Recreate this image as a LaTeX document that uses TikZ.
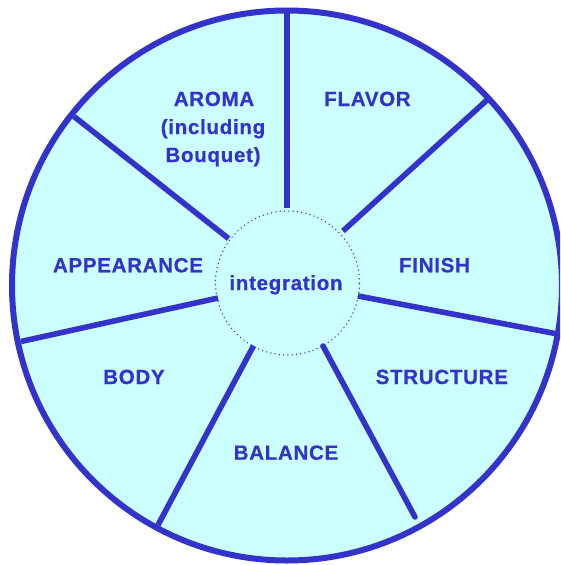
\documentclass[tikz,border=0pt]{standalone}
\usepackage{fontspec}
\setmainfont{Liberation Sans}[LetterSpace=3.5,BoldFeatures={FakeBold=0.6}]
\definecolor{wblue}{HTML}{3333CC}
\definecolor{wfill}{HTML}{CCFFFF}
\tikzset{
  lbl/.style={text=wblue, font=\bfseries\fontsize{20.5}{28}\selectfont, anchor=base, inner sep=0pt},
  spoke/.style={draw=wblue, line width=5.6pt},
  wheel/.style={circle, minimum size=550pt, inner sep=0pt, outer sep=0pt},
  hub/.style={circle, minimum size=144pt, inner sep=0pt, outer sep=0pt, draw=wblue, line width=1.5pt, line cap=round, dash pattern=on 0pt off 4.3pt}
}
\begin{document}
\begin{tikzpicture}[x=1pt,y=-1pt]
\useasboundingbox (0,0) rectangle (560,565);
\clip (0,0) rectangle (560,565);
\node[wheel, fill=wfill] (outer) at (287,285.5) {};
% spoke end points
\coordinate (i1) at (287,208);   \coordinate (o1) at (287,13);
\coordinate (i2) at (343,231);   \coordinate (o2) at (487,100);
\coordinate (i3) at (358,296);   \coordinate (o3) at (555,333.5);
\coordinate (i4) at (323,346);   \coordinate (o4) at (415,517);
\coordinate (i5) at (253.6,345.7); \coordinate (o5) at (158,525);
\coordinate (i6) at (218,298);   \coordinate (o6) at (21,341.5);
\coordinate (i7) at (228.6,238.6); \coordinate (o7) at (74,116.5);
\draw[spoke] (i1) -- (o1);
\draw[spoke] (i2) -- (o2);
\draw[spoke] (i3) -- (o3);
\draw[spoke, line cap=round] (i4) -- (o4);
\draw[spoke] (i5) -- (o5);
\draw[spoke] (i6) -- (o6);
\draw[spoke] (i7) -- (o7);
\node[wheel, draw=wblue, line width=6pt] (rim) at (287,285.5) {};
\node[hub] (hub) at (287.5,283) {};
% labels
\node[lbl] (aroma1) at (214,106) {AROMA};
\node[lbl] (aroma2) at (213,134) {(including};
\node[lbl] (aroma3) at (213,162) {Bouquet)};
\node[lbl] (flavor) at (367.5,106) {FLAVOR};
\node[lbl] (appearance) at (128,272.3) {APPEARANCE};
\node[lbl] (finish) at (434.5,272.3) {FINISH};
\node[lbl] (integ) at (286,290) {integration};
\node[lbl] (body) at (134,384) {BODY};
\node[lbl] (structure) at (441.8,384) {STRUCTURE};
\node[lbl] (balance) at (286,459.7) {BALANCE};
\end{tikzpicture}
\end{document}
